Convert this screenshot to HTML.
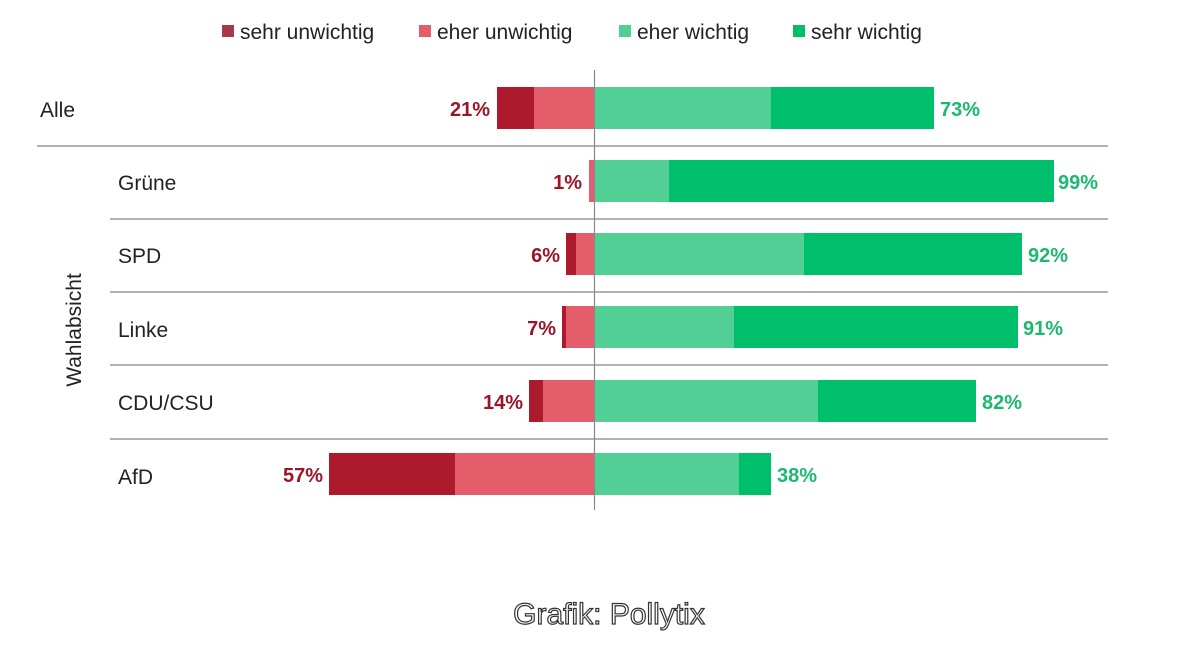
<!DOCTYPE html>
<html><head><meta charset="utf-8"><style>
body{margin:0;width:1200px;height:645px;background:#fff;overflow:hidden;font-family:"Liberation Sans",sans-serif;}
</style></head><body>
<svg width="1200" height="645" xmlns="http://www.w3.org/2000/svg" font-family="Liberation Sans, sans-serif">
<g font-size="21" fill="#222">
<rect x="222" y="25" width="12" height="12" fill="#a8384a"/><text x="240" y="39">sehr unwichtig</text>
<rect x="419" y="25" width="12" height="12" fill="#e35d6a"/><text x="437" y="39">eher unwichtig</text>
<rect x="619" y="25" width="12" height="12" fill="#52cf95"/><text x="637" y="39">eher wichtig</text>
<rect x="793" y="25" width="12" height="12" fill="#00bf6b"/><text x="811" y="39">sehr wichtig</text>
</g>
<g stroke="#999" stroke-width="1.5">
<line x1="37" y1="146" x2="1108" y2="146"/>
<line x1="110" y1="219" x2="1108" y2="219"/>
<line x1="110" y1="292" x2="1108" y2="292"/>
<line x1="110" y1="365" x2="1108" y2="365"/>
<line x1="110" y1="439" x2="1108" y2="439"/>
</g>
<g>
<rect x="497" y="87" width="37" height="42" fill="#ad1a2e"/><rect x="534" y="87" width="60" height="42" fill="#e35d6a"/><rect x="594" y="87" width="177" height="42" fill="#52cf95"/><rect x="771" y="87" width="163" height="42" fill="#00bf6b"/>
<rect x="589" y="160" width="5" height="42" fill="#e35d6a"/><rect x="594" y="160" width="75" height="42" fill="#52cf95"/><rect x="669" y="160" width="385" height="42" fill="#00bf6b"/>
<rect x="566" y="233" width="10" height="42" fill="#ad1a2e"/><rect x="576" y="233" width="18" height="42" fill="#e35d6a"/><rect x="594" y="233" width="210" height="42" fill="#52cf95"/><rect x="804" y="233" width="218" height="42" fill="#00bf6b"/>
<rect x="562" y="306" width="4" height="42" fill="#ad1a2e"/><rect x="566" y="306" width="28" height="42" fill="#e35d6a"/><rect x="594" y="306" width="140" height="42" fill="#52cf95"/><rect x="734" y="306" width="284" height="42" fill="#00bf6b"/>
<rect x="529" y="380" width="14" height="42" fill="#ad1a2e"/><rect x="543" y="380" width="51" height="42" fill="#e35d6a"/><rect x="594" y="380" width="224" height="42" fill="#52cf95"/><rect x="818" y="380" width="158" height="42" fill="#00bf6b"/>
<rect x="329" y="453" width="126" height="42" fill="#ad1a2e"/><rect x="455" y="453" width="139" height="42" fill="#e35d6a"/><rect x="594" y="453" width="145" height="42" fill="#52cf95"/><rect x="739" y="453" width="32" height="42" fill="#00bf6b"/>
</g>
<line x1="594.5" y1="70" x2="594.5" y2="510" stroke="#888" stroke-width="1.2"/>
<g font-size="20" font-weight="bold">
<g fill="#9b1529" text-anchor="end">
<text x="490" y="116">21%</text><text x="582" y="189">1%</text><text x="560" y="262">6%</text><text x="556" y="335">7%</text><text x="523" y="409">14%</text><text x="323" y="482">57%</text>
</g>
<g fill="#1db870">
<text x="940" y="116">73%</text><text x="1058" y="189">99%</text><text x="1028" y="262">92%</text><text x="1023" y="335">91%</text><text x="982" y="409">82%</text><text x="777" y="482">38%</text>
</g>
</g>
<g font-size="21" fill="#222">
<text x="40" y="117">Alle</text>
<text x="118" y="190">Grüne</text>
<text x="118" y="263">SPD</text>
<text x="118" y="337">Linke</text>
<text x="118" y="410">CDU/CSU</text>
<text x="118" y="484">AfD</text>
<text transform="translate(81,330) rotate(-90)" text-anchor="middle">Wahlabsicht</text>
</g>
<text x="609" y="624" font-size="30" text-anchor="middle" fill="#fff" stroke="#333" stroke-width="1.2">Grafik: Pollytix</text>
</svg>
</body></html>
